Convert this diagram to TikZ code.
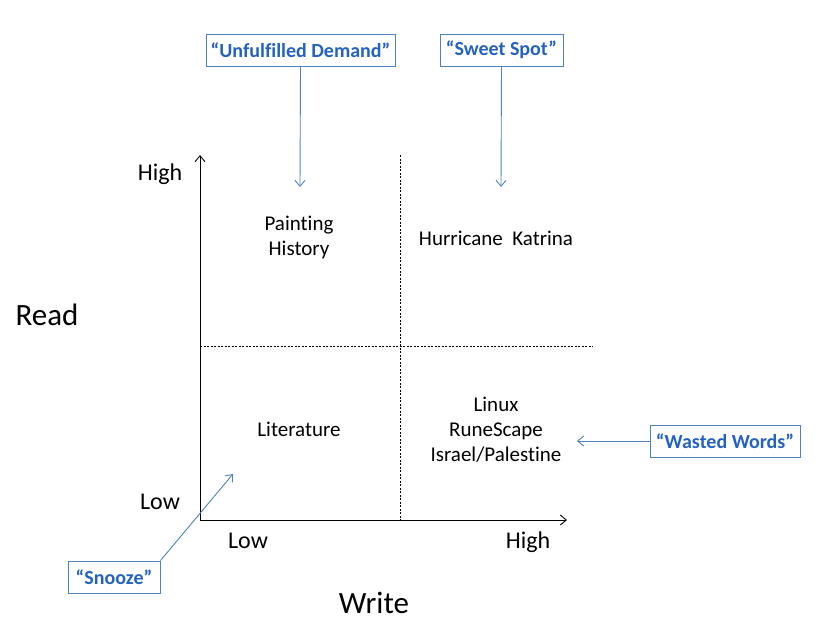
\documentclass[tikz,border=0pt]{standalone}
\usepackage{fontspec}
\setmainfont[Ligatures=NoCommon]{Carlito}
\usetikzlibrary{arrows.meta}
\definecolor{boxblue}{HTML}{4F81BD}
\definecolor{txtblue}{HTML}{2462BF}
\tikzset{
  lbl/.style={font=\fontsize{21}{25}\selectfont, align=center, inner sep=0pt},
  axlbl/.style={font=\fontsize{24}{28}\selectfont, inner sep=0pt},
  big/.style={font=\fontsize{31}{36}\selectfont, inner sep=0pt},
  callout/.style={draw=boxblue, line width=1pt, text=txtblue, font=\bfseries\fontsize{20}{24}\selectfont, minimum height=32pt, inner sep=0pt},
  axis/.style={line width=0.9pt, -{Straight Barb[length=6pt,width=10pt]}},
  guide/.style={dashed, dash pattern=on 2pt off 1.5pt, line width=0.7pt},
  pointer/.style={draw=boxblue, line width=0.9pt, -{Straight Barb[length=6pt,width=10pt]}}
}
\begin{document}
\begin{tikzpicture}[x=1pt,y=-1pt]
\useasboundingbox (0,0) rectangle (831,624);
% axes
\coordinate (O) at (200,520);
\coordinate (Ytop) at (200,155);
\coordinate (Xend) at (567,520);
\draw[axis] (O) -- (Ytop);
\draw[axis] (O) -- (Xend);
\coordinate (Vt) at (400,155);
\coordinate (Vb) at (400,520);
\coordinate (Hl) at (200,346);
\coordinate (Hr) at (593,346);
\draw[guide] (Vt) -- (Vb);
\draw[guide] (Hl) -- (Hr);
% axis labels
\node[axlbl] (yhigh) at (160,174) {High};
\node[axlbl] (ylow) at (160,502) {Low};
\node[axlbl] (xlow) at (248,541) {Low};
\node[axlbl] (xhigh) at (528,542) {High};
\node[big] (read) at (47,315) {Read};
\node[big] (write) at (374,603) {Write};
% quadrants
\node[lbl] (paint) at (299,237) {Painting\\History};
\node[lbl] (katrina) at (496,238) {Hurricane\ \ Katrina};
\node[lbl] (lit) at (299,429) {Literature};
\node[lbl] (linux) at (496,430) {Linux\\RuneScape\\Israel/Palestine};
% callouts
\node[callout, minimum width=189pt] (unf) at (300.5,50) {“Unfulfilled Demand”};
\node[callout, minimum width=123pt] (sweet) at (501.5,50) {“Sweet Spot”};
\node[callout, minimum width=150pt] (wasted) at (725,441) {“Wasted Words”};
\node[callout, minimum width=92pt] (snooze) at (114,577) {“Snooze”};
\coordinate (unfT) at (300,187);
\coordinate (sweetT) at (501,187);
\coordinate (wastedT) at (577,441);
\coordinate (snoozeT) at (233,474);
\draw[pointer] (unf.south) -- (unfT);
\draw[pointer] (sweet.south) -- (sweetT);
\draw[pointer] (wasted.west) -- (wastedT);
\draw[pointer] (snooze.north east) -- (snoozeT);
\end{tikzpicture}
\end{document}
